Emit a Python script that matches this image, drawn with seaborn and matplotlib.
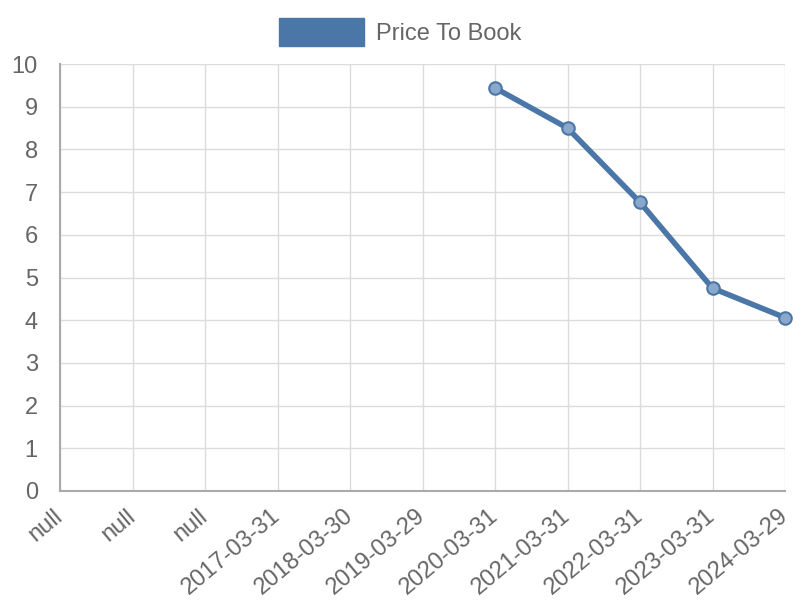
import numpy as np
import pandas as pd
import matplotlib
matplotlib.use("Agg")
import matplotlib.pyplot as plt
import seaborn as sns
from matplotlib.patches import Patch

# data
labels = ["null", "null", "null", "2017-03-31", "2018-03-30", "2019-03-29",
          "2020-03-31", "2021-03-31", "2022-03-31", "2023-03-31", "2024-03-29"]
price_to_book = [np.nan, np.nan, np.nan, np.nan, np.nan, np.nan,
                 9.44, 8.50, 6.76, 4.75, 4.06]

df = pd.DataFrame({"pos": range(len(labels)), "value": price_to_book})

sns.set_style("white")
plt.rcParams["font.family"] = ["Liberation Sans", "DejaVu Sans"]

line_col = "#4a76a8"
grid_col = "#dcdcdc"
text_col = "#666666"

fig = plt.figure(figsize=(8, 6), dpi=100)
ax = fig.add_axes([0.075, 0.1817, 0.90625, 0.7116])

sns.lineplot(data=df, x="pos", y="value", ax=ax, color=line_col, lw=4,
             marker="o", markersize=9, markerfacecolor="#8aa8cc",
             markeredgecolor=line_col, markeredgewidth=1.5, clip_on=False)

ax.set_xlim(0, len(labels) - 1)
ax.set_ylim(0, 10)
ax.set_xticks(range(len(labels)))
ax.set_xticklabels(labels, rotation=40, ha="right", va="center",
                   rotation_mode="anchor", fontsize=17, color=text_col)
ax.set_yticks(range(0, 11))
ax.set_yticklabels([str(v) for v in range(0, 11)], fontsize=17, color=text_col)
ax.tick_params(axis="x", length=14, color=grid_col, width=1, pad=2)
ax.tick_params(axis="y", length=15, color=grid_col, width=1, pad=1)
ax.grid(True, color=grid_col, lw=1)
ax.set_axisbelow(True)
ax.set_xlabel("")
ax.set_ylabel("")

for s in ["top", "right"]:
    ax.spines[s].set_visible(False)
for s in ["left", "bottom"]:
    ax.spines[s].set_color("#aaaaaa")
    ax.spines[s].set_linewidth(1.5)

handle = Patch(facecolor=line_col, edgecolor=line_col)
fig.legend([handle], ["Price To Book"], loc="upper center",
           bbox_to_anchor=(0.5, 1.005), frameon=False, fontsize=17,
           handlelength=3.6, handleheight=1.45, handletextpad=0.5,
           labelcolor=text_col)

fig.savefig("out.png", dpi=100)
